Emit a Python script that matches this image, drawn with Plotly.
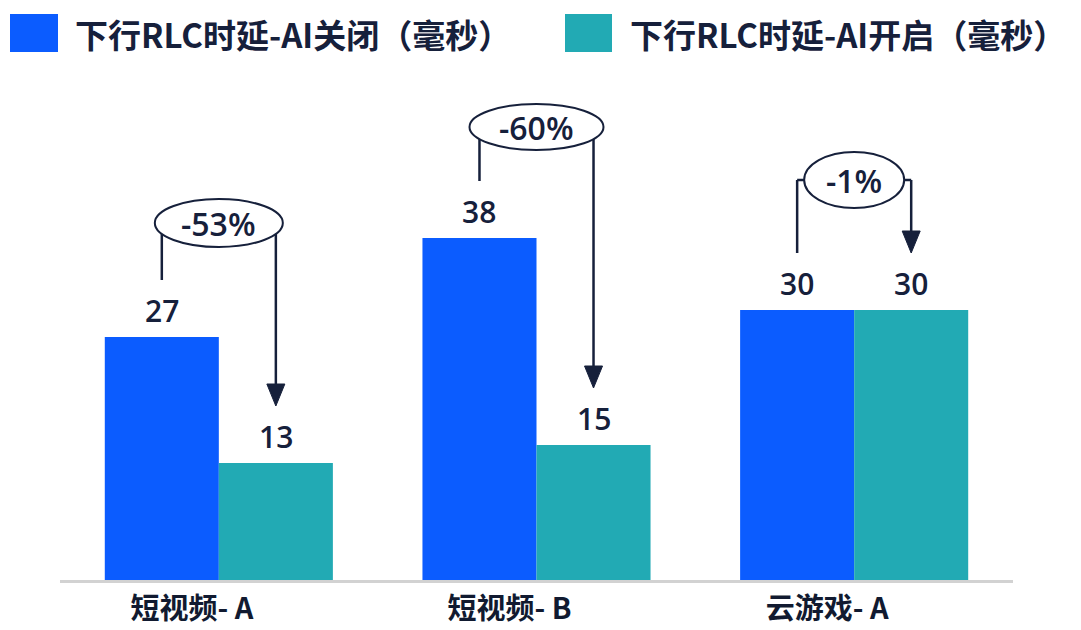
import plotly.graph_objects as go

# ---------------- data ----------------
categories = ["短视频- A", "短视频- B", "云游戏- A"]
series_names = ["下行RLC时延-AI关闭（毫秒）", "下行RLC时延-AI开启（毫秒）"]
ai_off = [27, 38, 30]
ai_on = [13, 15, 30]
change_labels = ["-53%", "-60%", "-1%"]

# ---------------- style ----------------
OFF = 8  # default page body margin
W, H = 1081 - OFF, 630 - OFF
ML, MR, MT, MB = 60 - OFF, 68, 76 - OFF, 50
PLOT_W = W - ML - MR
PLOT_H = H - MT - MB
YMAX = 56
XMIN, XMAX = -0.5, 2.5
PPU_Y = PLOT_H / YMAX
PPU_X = PLOT_W / (XMAX - XMIN)

BLUE = "#0b5cff"
TEAL = "#22aab4"
NAVY = "#16203b"
BARGAP = 0.282
BAR_W = (1 - BARGAP) / 2

CJK = "Noto Sans CJK SC"
NUM = "Open Sans"

ELLIPSE_W = [128, 134, 100]      # px
ELLIPSE_H = [48, 46, 56]         # px
ELLIPSE_RISE = [114, 111, 130]   # px above the taller bar
LEAD_GAP = 57                    # px between bar top and bracket end


def dy(px):
    return px / PPU_Y


def dx(px):
    return px / PPU_X


def paper_x(px):  # page pixel -> paper
    return (px - OFF - ML) / PLOT_W


def paper_y(py):
    return (OFF + MT + PLOT_H - py) / PLOT_H


xs = list(range(len(categories)))

fig = go.Figure()
fig.add_bar(x=xs, y=ai_off, name=series_names[0], marker=dict(color=BLUE, line=dict(width=0)))
fig.add_bar(x=xs, y=ai_on, name=series_names[1], marker=dict(color=TEAL, line=dict(width=0)))

shapes = []
annotations = []

for i, (a, b, lab) in enumerate(zip(ai_off, ai_on, change_labels)):
    bx = i - BAR_W / 2
    tx = i + BAR_W / 2
    # value labels
    for xv, v in ((bx, a), (tx, b)):
        annotations.append(dict(x=xv, y=v, xref="x", yref="y", text=str(v), showarrow=False,
                                yanchor="middle", yshift=27,
                                font=dict(family=NUM, size=30, color=NAVY, weight=600)))
    top = max(a, b)
    ey = top + dy(ELLIPSE_RISE[i])
    # left bracket
    shapes.append(dict(type="line", xref="x", yref="y", x0=bx, x1=bx,
                       y0=a + dy(LEAD_GAP), y1=ey, line=dict(color=NAVY, width=2.5)))
    shapes.append(dict(type="line", xref="x", yref="y", x0=bx, x1=i,
                       y0=ey, y1=ey, line=dict(color=NAVY, width=2.5)))
    # right bracket
    shapes.append(dict(type="line", xref="x", yref="y", x0=i, x1=tx,
                       y0=ey, y1=ey, line=dict(color=NAVY, width=2.5)))
    shapes.append(dict(type="line", xref="x", yref="y", x0=tx, x1=tx,
                       y0=ey, y1=b + dy(LEAD_GAP + 20), line=dict(color=NAVY, width=2.5)))
    # arrow head
    tip = b + dy(LEAD_GAP)
    hb = b + dy(LEAD_GAP + 22)
    shapes.append(dict(type="path", xref="x", yref="y",
                       path=f"M {tx - dx(9)},{hb} L {tx + dx(9)},{hb} L {tx},{tip} Z",
                       fillcolor=NAVY, line=dict(color=NAVY, width=1)))
    # ellipse
    shapes.append(dict(type="circle", xref="x", yref="y",
                       x0=i - dx(ELLIPSE_W[i] / 2), x1=i + dx(ELLIPSE_W[i] / 2),
                       y0=ey - dy(ELLIPSE_H[i] / 2), y1=ey + dy(ELLIPSE_H[i] / 2),
                       fillcolor="white", line=dict(color=NAVY, width=2)))
    annotations.append(dict(x=i, y=ey, xref="x", yref="y", text=lab, showarrow=False,
                            font=dict(family=NUM, size=32, color=NAVY, weight=600)))

# manual legend (large swatches), positions in page pixels
legend_items = [(10, 58, 73, BLUE), (565, 612, 628, TEAL)]
for (sx0, sx1, tx0, col), name in zip(legend_items, series_names):
    shapes.append(dict(type="rect", xref="paper", yref="paper",
                       x0=paper_x(sx0), x1=paper_x(sx1), y0=paper_y(52), y1=paper_y(14),
                       fillcolor=col, line=dict(width=0)))
    annotations.append(dict(x=paper_x(tx0), y=paper_y(34), xref="paper", yref="paper",
                            text=name, showarrow=False, xanchor="left", yanchor="middle",
                            font=dict(family=CJK, size=33, color=NAVY, weight="bold")))

fig.update_layout(
    width=W, height=H,
    margin=dict(l=ML, r=MR, t=MT, b=MB, autoexpand=False),
    paper_bgcolor="white", plot_bgcolor="white",
    barmode="group", bargap=BARGAP, bargroupgap=0,
    showlegend=False,
    shapes=shapes, annotations=annotations,
    xaxis=dict(range=[XMIN, XMAX], tickvals=xs, ticktext=categories, automargin=False,
               showgrid=False, zeroline=False, showline=True, linecolor="#d2d2d2", linewidth=3,
               ticks="", ticklabelshift=-27, ticklabelstandoff=1,
               tickfont=dict(family=CJK, size=29, color="#111a30", weight="bold")),
    yaxis=dict(range=[0, YMAX], visible=False, showgrid=False, zeroline=False, automargin=False),
)

fig.write_html("out.html")
